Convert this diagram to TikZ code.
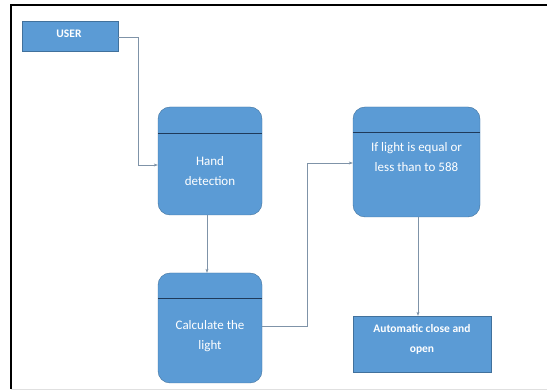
\documentclass[tikz,border=0pt]{standalone}
\usepackage{fontspec}
\setmainfont{Carlito}
\usetikzlibrary{arrows.meta}
\definecolor{boxblue}{HTML}{5B9BD5}
\definecolor{boxedge}{HTML}{41719C}
\definecolor{linkgray}{HTML}{7F93A8}
\definecolor{divnavy}{HTML}{1F3A5A}
\tikzset{
	proc/.style={draw=boxedge, fill=boxblue, rounded corners=12pt, inner sep=0pt},
	plain/.style={draw=boxedge, fill=boxblue, inner sep=0pt},
	txt/.style={text=white, align=center, font=\fontsize{13}{20}\selectfont},
	boldtxt/.style={text=white, align=center, font=\fontsize{11.5}{20}\selectfont\bfseries},
	link/.style={draw=linkgray, thin, -{Stealth[length=4pt,width=3pt]}},
	divider/.style={draw=divnavy, line width=0.9pt}
}
\begin{document}
\begin{tikzpicture}[x=1pt, y=-1pt]
	\useasboundingbox (0,0) rectangle (547,390);
	\draw [line width=2.2pt] (10.8,389) -- (10.8,4.8) -- (547,4.8);
	\draw [black!12, line width=0.8pt] (11,389) -- (547,389);
	\node [plain, minimum width=96pt, minimum height=30pt] (user) at (70,36) {};
	\node [boldtxt] (usertxt) at (69,34) {USER};
	\node [proc, minimum width=104pt, minimum height=108pt] (hand) at (210,161) {};
	\draw [divider] ([yshift=-27pt]hand.north west) -- ([yshift=-27pt]hand.north east);
	\node [txt] (handtxt) at (210,171) {Hand\\detection};
	\node [proc, minimum width=104pt, minimum height=110pt] (calc) at (210,328) {};
	\draw [divider] ([yshift=-26pt]calc.north west) -- ([yshift=-26pt]calc.north east);
	\node [txt] (calctxt) at (210,336.5) {Calculate the\\light};
	\node [proc, minimum width=127pt, minimum height=110pt] (ifl) at (416.5,162) {};
	\draw [divider] ([yshift=-26pt]ifl.north west) -- ([yshift=-26pt]ifl.north east);
	\node [txt] (ifltxt) at (416.5,157) {If light is equal or\\less than to 588};
	\node [plain, minimum width=138pt, minimum height=56pt] (auto) at (422,344) {};
	\node [boldtxt] (autotxt) at (422,339) {Automatic close and\\open};
	\coordinate (c1) at (138,37);
	\coordinate (c2) at (307,326);
	\draw [link] (user.east |- c1) -- (c1) |- (hand.west |- 0,165);
	\draw [link] (hand.south -| 207,0) -- (calc.north -| 207,0);
	\draw [link] (calc.east |- c2) -- (c2) |- (ifl.west |- 0,163);
	\draw [link] (ifl.south -| 418,0) -- (auto.north -| 418,0);
\end{tikzpicture}
\end{document}
